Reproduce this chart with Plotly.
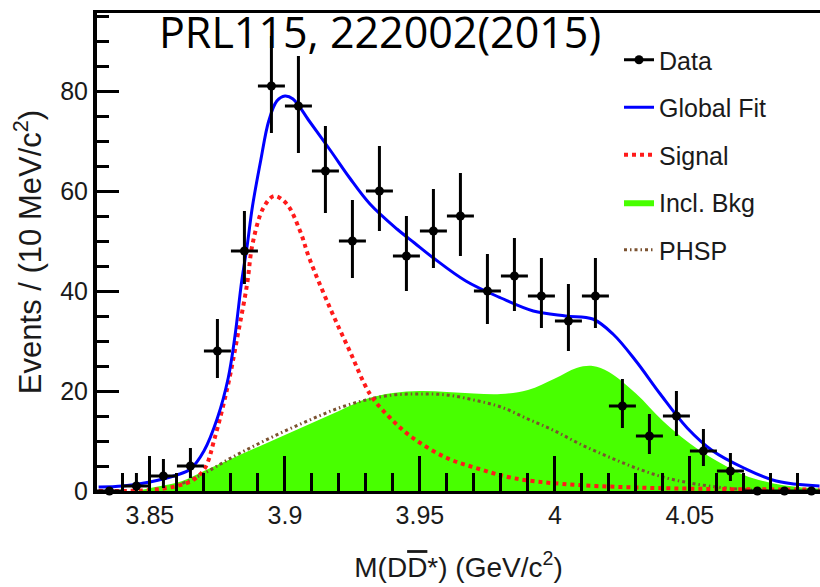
import plotly.graph_objects as go

# ---- data ----
data_x = [3.835, 3.845, 3.855, 3.865, 3.875, 3.885, 3.895, 3.905, 3.915, 3.925, 3.935, 3.945,
          3.955, 3.965, 3.975, 3.985, 3.995, 4.005, 4.015, 4.025, 4.035, 4.045, 4.055, 4.065,
          4.075, 4.085, 4.095]
data_y = [0, 1, 3, 5, 28, 48, 81, 77, 64, 50, 60, 47, 52, 55, 40, 43, 39, 34, 39, 17, 11, 15, 8, 4, 0, 0, 0]
err_up = [0, 2.6, 3.4, 3.6, 6.4, 8, 10, 10, 9, 8.2, 9, 8, 8.4, 8.6, 7.4, 7.6, 7.6, 7.4, 7.6, 5.4, 4.4, 5, 4.4, 3.6, 0, 0, 0]
err_dn = [0, 1, 2.4, 2.4, 5.4, 6.6, 9.4, 9.4, 8.4, 7.4, 8, 7, 7.4, 8, 6.6, 7, 6.4, 6, 6.4, 4.4, 3.6, 4, 3, 2, 0, 0, 0]
bin_half = [0.005] * len(data_x)

fit_x = [3.831, 3.84, 3.85, 3.86, 3.865, 3.87, 3.875, 3.879, 3.8815, 3.884, 3.886, 3.888, 3.891, 3.894,
         3.897, 3.9, 3.903, 3.909, 3.917, 3.924, 3.9315, 3.9415, 3.948, 3.955, 3.967, 3.98, 3.992,
         4.004, 4.014, 4.0215, 4.03, 4.039, 4.049, 4.0585, 4.07, 4.082, 4.098]
fit_y = [0.8, 1.0, 1.8, 3.2, 4.4, 8.0, 14.6, 22.6, 31, 42, 49, 57, 66, 74,
         78, 79, 78.4, 74, 68, 62.6, 57.4, 52.4, 49.6, 46.6, 42, 38.6, 36,
         35, 34.4, 31.4, 26, 19.4, 12.6, 8, 4.6, 2, 1]

sig_x = [3.831, 3.85, 3.86, 3.866, 3.8704, 3.874, 3.879, 3.8826, 3.886, 3.888, 3.892, 3.896, 3.9007,
         3.9056, 3.909, 3.9167, 3.924, 3.9315, 3.939, 3.9474, 3.96, 3.972, 3.9844, 4.003, 4.03, 4.06, 4.098]
sig_y = [0, 0.2, 1, 2.2, 4.6, 10.6, 21.4, 31.4, 41.4, 49.4, 56.6, 59, 57.4,
         52, 46.6, 36.6, 28, 19.4, 14.6, 10.6, 6.6, 4.4, 2.6, 1.4, 0.7, 0.4, 0.3]

bkg_x = [3.845, 3.852, 3.862, 3.87, 3.88, 3.89, 3.9, 3.91, 3.92, 3.93, 3.94, 3.95, 3.96, 3.97,
         3.98, 3.99, 4.0, 4.008, 4.014, 4.02, 4.03, 4.04, 4.05, 4.06, 4.07, 4.08, 4.09, 4.098]
bkg_y = [0, 0.8, 2, 4, 6.4, 8.8, 11.2, 13.6, 16, 18.4, 19.6, 20, 19.8, 19.5,
         19.4, 20.2, 22.5, 24.6, 25, 23.8, 19.5, 14, 9.5, 6, 3.2, 1.6, 0.8, 0.5]

phsp_x = [3.862, 3.87, 3.88, 3.89, 3.9, 3.91, 3.92, 3.93, 3.94, 3.95, 3.96, 3.97, 3.98, 3.99,
          4.0, 4.01, 4.02, 4.03, 4.04, 4.05, 4.06, 4.07, 4.08]
phsp_y = [1.5, 3.5, 6.6, 9.4, 12, 14.4, 16.6, 18.2, 19.2, 19.4, 19.2, 18.2, 16.8, 14.4,
          12, 9.2, 6.8, 4.6, 2.8, 1.6, 0.8, 0.3, 0]

x_ticks = [3.85, 3.9, 3.95, 4.0, 4.05]
x_ticklabels = ["3.85", "3.9", "3.95", "4", "4.05"]
y_ticks = [0, 20, 40, 60, 80]

fig = go.Figure()

fig.add_trace(go.Scatter(x=bkg_x, y=bkg_y, mode="lines", fill="tozeroy", fillcolor="#48ff00",
                         line=dict(width=0, color="#48ff00", shape="spline"), name="Incl. Bkg",
                         legendrank=4, legendgroup="d"))
fig.add_trace(go.Scatter(x=phsp_x, y=phsp_y, mode="lines", name="PHSP",
                         line=dict(color="#7b5230", width=3, dash="3px,3px,1.5px,3px", shape="spline"),
                         legendrank=5, legendgroup="e"))
fig.add_trace(go.Scatter(x=sig_x, y=sig_y, mode="lines", name="Signal",
                         line=dict(color="#ff1a1a", width=4, dash="4px,4px", shape="spline"),
                         legendrank=3, legendgroup="c"))
fig.add_trace(go.Scatter(x=fit_x, y=fit_y, mode="lines", name="Global Fit",
                         line=dict(color="#0000ff", width=3, shape="spline"),
                         legendrank=2, legendgroup="b"))
fig.add_trace(go.Scatter(x=data_x, y=data_y, mode="markers", showlegend=False, cliponaxis=False,
                         marker=dict(color="black", size=9),
                         error_y=dict(type="data", array=err_up, arrayminus=err_dn, color="black",
                                      thickness=3, width=0),
                         error_x=dict(type="data", array=bin_half, color="black", thickness=3, width=0)))
fig.add_trace(go.Scatter(x=[None], y=[None], mode="lines+markers", name="Data",
                         marker=dict(color="black", size=9), line=dict(color="black", width=3),
                         legendrank=1, legendgroup="a"))

W, H = 820, 587
ml, mr, mt, mb = 97, 0, 13, 96
pw, ph = W - ml - mr, H - mt - mb

def px(xp):
    return (xp - ml) / pw

def py(yp):
    return (H - mb - yp) / ph

fig.update_layout(
    width=W, height=H,
    margin=dict(l=ml, r=mr, t=mt, b=mb, pad=0),
    plot_bgcolor="white", paper_bgcolor="white",
    font=dict(family="Liberation Sans, Arial, sans-serif", color="#1a1a1a"),
    showlegend=True,
    legend=dict(x=px(619), y=py(37), xanchor="left", yanchor="top", bgcolor="rgba(0,0,0,0)",
                font=dict(size=25, color="#1a1a1a"), tracegroupgap=12, itemwidth=30),
    xaxis=dict(range=[3.8304, 3.8304 + pw / 2700.0], tickvals=x_ticks, ticktext=x_ticklabels,
               ticks="inside", ticklen=35, tickwidth=2.5, tickcolor="black",
               showline=True, linecolor="black", linewidth=3, mirror=True,
               showgrid=False, zeroline=False, tickfont=dict(size=25),
               minor=dict(dtick=0.01, tick0=3.85, ticks="inside", ticklen=18, tickwidth=2.5,
                          tickcolor="black", showgrid=False),
               title=dict(text="M(D<span style='text-decoration:overline'>D</span>*) (GeV/c<sup>2</sup>)",
                          font=dict(size=28), standoff=30)),
    yaxis=dict(range=[0, ph / 5.0], tickvals=y_ticks, ticks="inside", ticklen=22, tickwidth=3,
               tickcolor="black", showline=True, linecolor="black", linewidth=4, mirror=False,
               showgrid=False, zeroline=False, tickfont=dict(size=25),
               minor=dict(dtick=5, ticks="inside", ticklen=12, tickwidth=2.5, tickcolor="black",
                          showgrid=False),
               title=dict(text="Events / (10 MeV/c<sup>2</sup>)", font=dict(size=31), standoff=10)),
    annotations=[dict(text="PRL115, 222002(2015)", x=px(380), y=py(31), xref="paper", yref="paper",
                      xanchor="center", yanchor="middle", showarrow=False,
                      font=dict(family="Open Sans, sans-serif", size=43, color="black"))],
)

fig.write_html("out.html")
